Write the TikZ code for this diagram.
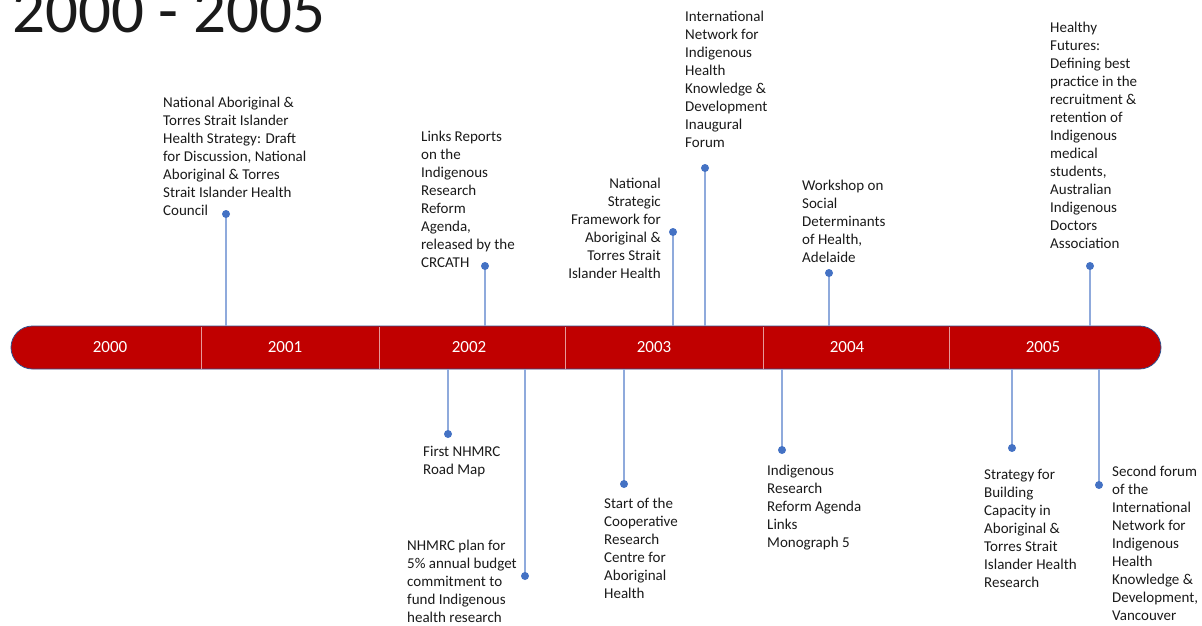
\documentclass[tikz,border=0pt]{standalone}
\usepackage{fontspec}
\setmainfont{Carlito}
\definecolor{barred}{HTML}{C00000}
\definecolor{barline}{HTML}{2F528F}
\definecolor{stemblue}{HTML}{8FAADC}
\definecolor{dotblue}{HTML}{4472C4}
\definecolor{txt}{HTML}{1A1A1A}
\tikzset{
  evtext/.style={font=\fontsize{15}{18}\selectfont, align=left, inner sep=0pt, anchor=north west, text=txt},
  evtextr/.style={evtext, align=right, anchor=north east},
  evdot/.style={circle, fill=dotblue, minimum size=8pt, inner sep=0pt},
  stemline/.style={draw=stemblue, line width=1.1pt},
  yearlabel/.style={font=\fontsize{17}{17}\selectfont, text=white, inner sep=0pt},
  divider/.style={draw=white!60!barred, line width=0.8pt}
}
\begin{document}
\begin{tikzpicture}[x=1pt,y=-1pt]
\useasboundingbox (0,0) rectangle (1202,626);
% title
\node[anchor=base west, font=\fontsize{65}{65}\selectfont, inner sep=0pt, text=txt] (title) at (12,33) {2000 - 2005};
% bar
\node[draw=barline, line width=0.8pt, fill=barred, rounded corners=21.5pt, minimum width=1150pt, minimum height=43pt, inner sep=0pt] (bar) at (586,347.5) {};
\foreach \x in {201,379,565,763,949} \draw[divider] (\x,327) -- (\x,368.5);
\node[yearlabel] (y0) at (110,347.5) {2000};
\node[yearlabel] (y1) at (285,347.5) {2001};
\node[yearlabel] (y2) at (469,347.5) {2002};
\node[yearlabel] (y3) at (654,347.5) {2003};
\node[yearlabel] (y4) at (847,347.5) {2004};
\node[yearlabel] (y5) at (1043,347.5) {2005};
% dots (above)
\coordinate (p1) at (226,214);
\coordinate (p2) at (485,266);
\coordinate (p3) at (673,232);
\coordinate (p4) at (705,168);
\coordinate (p5) at (829,273);
\coordinate (p6) at (1090,266);
% dots (below)
\coordinate (q1) at (448,434);
\coordinate (q2) at (525,576);
\coordinate (q3) at (624,484);
\coordinate (q4) at (782,450);
\coordinate (q5) at (1012,448);
\coordinate (q6) at (1099,485);
\foreach \p in {p1,p2,p3,p4,p5,p6} \draw[stemline] (\p) -- (\p |- bar.north);
\foreach \p in {q1,q2,q3,q4,q5,q6} \draw[stemline] (\p |- bar.south) -- (\p);
\foreach \p in {p1,p2,p3,p4,p5,p6,q1,q2,q3,q4,q5,q6} \node[evdot] (dot\p) at (\p) {};
% texts above
\node[evtext] (t1) at (163,97) {National Aboriginal \&\\Torres Strait Islander\\Health Strategy: Draft\\for Discussion, National\\Aboriginal \& Torres\\Strait Islander Health\\Council};
\node[evtext] (t2) at (421,131) {Links Reports\\on the\\Indigenous\\Research\\Reform\\Agenda,\\released by the\\CRCATH};
\node[evtextr] (t3) at (661,178) {National\\Strategic\\Framework for\\Aboriginal \&\\Torres Strait\\Islander Health};
\node[evtext] (t4) at (685,11) {International\\Network for\\Indigenous\\Health\\Knowledge \&\\Development\\Inaugural\\Forum};
\node[evtext] (t5) at (802,180) {Workshop on\\Social\\Determinants\\of Health,\\Adelaide};
\node[evtext] (t6) at (1050,22) {Healthy\\Futures:\\Defining best\\practice in the\\recruitment \&\\retention of\\Indigenous\\medical\\students,\\Australian\\Indigenous\\Doctors\\Association};
% texts below
\node[evtext] (b1) at (423,446) {First NHMRC\\Road Map};
\node[evtext] (b2) at (407,540) {NHMRC plan for\\5\% annual budget\\commitment to\\fund Indigenous\\health research};
\node[evtext] (b3) at (604,498) {Start of the\\Cooperative\\Research\\Centre for\\Aboriginal\\Health};
\node[evtext] (b4) at (767,465) {Indigenous\\Research\\Reform Agenda\\Links\\Monograph 5};
\node[evtext] (b5) at (984,469) {Strategy for\\Building\\Capacity in\\Aboriginal \&\\Torres Strait\\Islander Health\\Research};
\node[evtext] (b6) at (1112,466) {Second forum\\of the\\International\\Network for\\Indigenous\\Health\\Knowledge \&\\Development,\\Vancouver};
\end{tikzpicture}
\end{document}
